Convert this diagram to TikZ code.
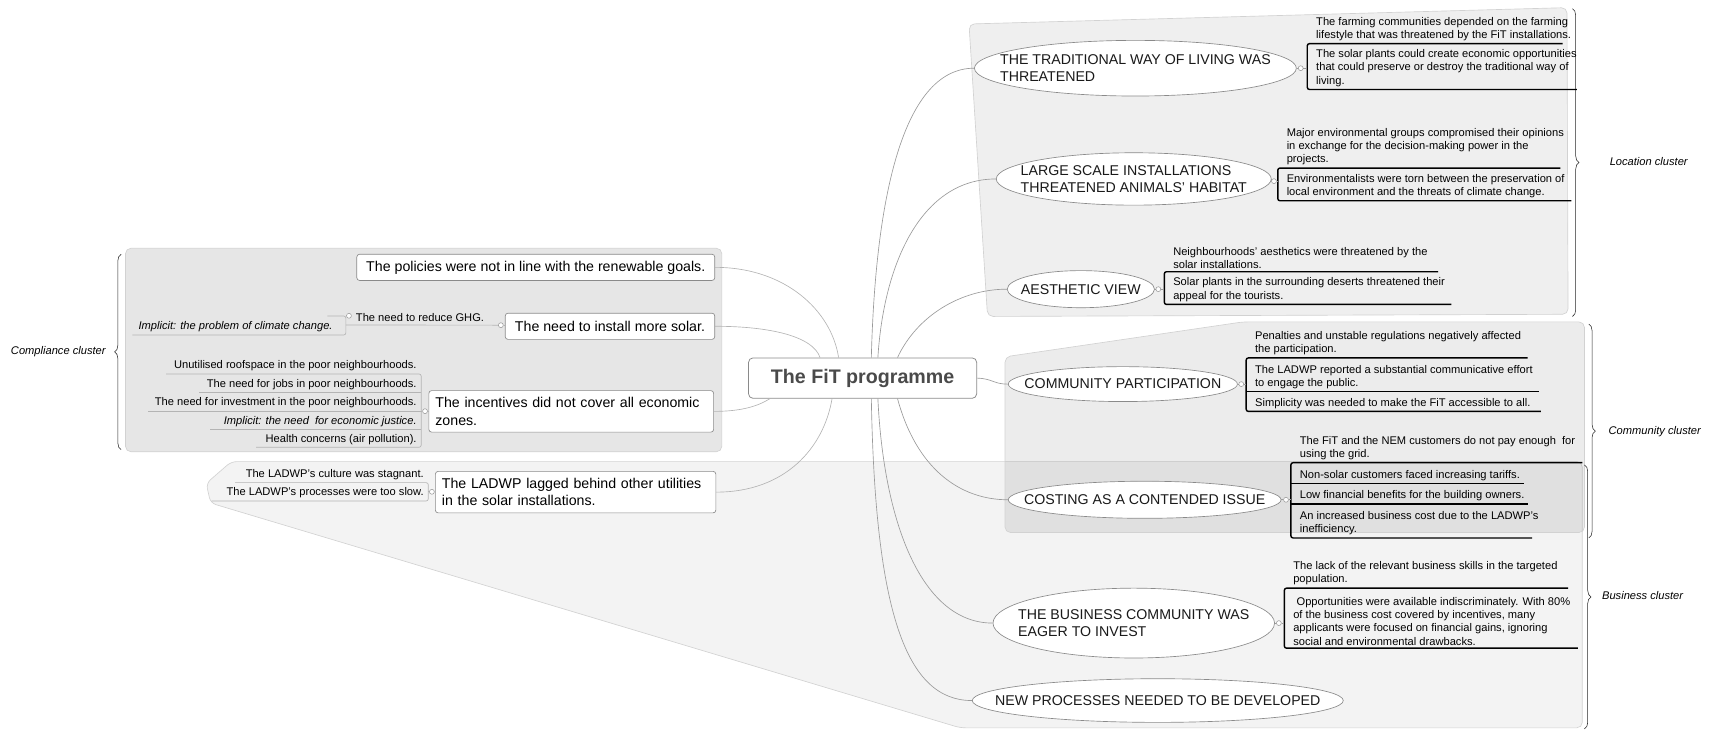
\documentclass[tikz,border=0pt]{standalone}
\usepackage{fontspec}
\setmainfont{Liberation Sans}
\usetikzlibrary{shapes.geometric,decorations.pathreplacing,calc}
\definecolor{connc}{HTML}{9A9A9A}
\definecolor{lconnc}{HTML}{B4B4B4}
\definecolor{boxc}{HTML}{8A8A8A}
\definecolor{clc}{HTML}{D2D2D2}
\definecolor{titc}{HTML}{4A4A4A}
\definecolor{locfill}{HTML}{EFEFEF}
\definecolor{cmpfill}{HTML}{E6E6E6}
\definecolor{bizfill}{HTML}{F3F3F3}
\newcommand\fsmall{\fontsize{10.2}{12.2}\selectfont}
\newcommand\fmed{\fontsize{13}{16}\selectfont}
\tikzset{
 conn/.style={draw=connc, line width=0.6pt},
 lconn/.style={draw=lconnc, line width=0.6pt},
 box/.style={draw=boxc, fill=white, rounded corners=2.5pt, line width=0.6pt, inner xsep=6pt, inner ysep=2pt, font=\fmed, minimum height=24pt},
 ellnode/.style={ellipse, draw=boxc, fill=white, line width=0.6pt, inner sep=0pt},
 elltext/.style={align=left, font=\fmed, text=black!90, inner sep=0pt},
 rchild/.style={anchor=south west, align=left, inner xsep=8pt, inner ysep=2.5pt, font=\fsmall},
 lchild/.style={anchor=south east, align=right, inner xsep=4pt, inner ysep=2.5pt, font=\fsmall},
 rline/.style={draw=black, line width=1.3pt, rounded corners=2pt},
 lline/.style={draw=lconnc, line width=0.6pt, rounded corners=2pt},
 knob/.style={circle, draw=connc, fill=white, inner sep=0pt, minimum size=4.5pt, line width=0.5pt},
 clbrace/.style={decorate, decoration={brace, amplitude=6pt}, draw=black!85, line width=0.5pt},
 cllabel/.style={font=\fontsize{10.2}{12}\selectfont\itshape, inner sep=0pt},
 cluster/.style={draw=clc, line width=0.6pt, rounded corners=5pt},
 hub/.style={draw=boxc, fill=white, rounded corners=4pt, line width=0.7pt, minimum width=209pt, minimum height=37pt, font=\fontsize{18}{22}\selectfont\bfseries, text=titc},
}
\begin{document}
\begin{tikzpicture}[x=1pt,y=1pt]
\useasboundingbox (0,0) rectangle (1568,-669);
% ---------- clusters ----------
\path[cluster, fill=bizfill] (212,-423) -- (1450,-423) -- (1450,-667) -- (880,-667) -- (193,-461) -- (189,-443) -- cycle;
\path[cluster, fill=locfill] (888,-22) -- (1436,-7) -- (1437,-288) -- (905,-290) -- cycle;
\path[cluster, fill=black, fill opacity=0.075] (921,-327) -- (1139,-295) -- (1452,-295) -- (1452,-488) -- (921,-488) -- cycle;
\path[cluster, fill=cmpfill] (115,-227.5) rectangle (661.5,-414);
% braces
\draw[clbrace] (111,-412) -- (111,-233);
\node[cllabel, anchor=east] (lcmp) at (97,-322) {Compliance cluster};
\draw[clbrace] (1441,-8) -- (1441,-290);
\node[cllabel, anchor=west] (lloc) at (1475,-148) {Location cluster};
\draw[clbrace] (1456,-297) -- (1456,-493);
\node[cllabel, anchor=west] (lcom) at (1474,-396) {Community cluster};
\draw[clbrace] (1452,-426) -- (1452,-668);
\node[cllabel, anchor=west] (lbiz) at (1468,-546) {Business cluster};
% ---------- hub ----------
\node[hub] (c) at (790.5,-346.5) {The FiT programme};
% ---------- right main topics ----------
\node[ellnode, minimum width=295pt, minimum height=51pt] (e1) at (1040.5,-62.5) {};
\node[elltext] (e1t) at (e1.center) {THE TRADITIONAL WAY OF LIVING WAS\\THREATENED};
\node[ellnode, minimum width=252pt, minimum height=48pt] (e2) at (1039,-164) {};
\node[elltext] (e2t) at (e2.center) {LARGE SCALE INSTALLATIONS\\THREATENED ANIMALS' HABITAT};
\node[ellnode, minimum width=135pt, minimum height=34pt] (e3) at (990.5,-265) {};
\node[elltext] (e3t) at (e3.center) {AESTHETIC VIEW};
\node[ellnode, minimum width=210pt, minimum height=32pt] (e4) at (1029,-352) {};
\node[elltext] (e4t) at (e4.center) {COMMUNITY PARTICIPATION};
\node[ellnode, minimum width=250pt, minimum height=34pt] (e5) at (1049,-458) {};
\node[elltext] (e5t) at (e5.center) {COSTING AS A CONTENDED ISSUE};
\node[ellnode, minimum width=258pt, minimum height=64pt] (e6) at (1039,-571) {};
\node[elltext] (e6t) at (e6.center) {THE BUSINESS COMMUNITY WAS\\EAGER TO INVEST};
\node[ellnode, minimum width=340pt, minimum height=40pt] (e7) at (1061,-642) {};
\node[elltext] (e7t) at (e7.center) {NEW PROCESSES NEEDED TO BE DEVELOPED};
% ---------- left main topics ----------
\node[box, minimum width=328pt] (pol) at (491,-245) {The policies were not in line with the renewable goals.};
\node[box, minimum width=192pt] (sol) at (559,-299) {The need to install more solar.};
\node[box, text width=249pt, align=left, minimum height=38pt] (inc) at (523.5,-377) {The incentives did not cover all economic\\zones.};
\node[box, text width=245pt, align=left, minimum height=38pt] (lad) at (527.5,-451) {The LADWP lagged behind other utilities\\in the solar installations.};
% ---------- hub connectors ----------
\draw[conn] ([xshift=8pt]c.north) .. controls (802,-190) and (825,-62.5) .. (e1.west);
\draw[conn] ([xshift=14pt]c.north) .. controls (810,-240) and (845,-164) .. (e2.west);
\draw[conn] ([xshift=32pt]c.north) .. controls (840,-290) and (880,-265) .. (e3.west);
\draw[conn] (c.east) .. controls (910,-347) and (910,-352) .. (e4.west);
\draw[conn] ([xshift=32pt]c.south) .. controls (840,-430) and (880,-458) .. (e5.west);
\draw[conn] ([xshift=14pt]c.south) .. controls (810,-480) and (845,-571) .. (e6.west);
\draw[conn] ([xshift=8pt]c.south) .. controls (802,-560) and (830,-642) .. (e7.west);
\draw[lconn] (pol.east) .. controls (720,-245) and (762,-285) .. ([xshift=-22pt]c.north);
\draw[lconn] (sol.east) .. controls (705,-299) and (745,-308) .. ([xshift=-39pt]c.north);
\draw[lconn] (inc.east) .. controls (680,-377) and (695,-372) .. ([xshift=-85pt]c.south);
\draw[lconn] (lad.east) .. controls (720,-451) and (755,-410) .. ([xshift=-28pt]c.south);
% ---------- G1 ----------
\node[rchild] (a1) at (1198,-40) {The farming communities depended on the farming\\lifestyle that was threatened by the FiT installations.};
\node[rchild] (a2) at (1198,-82) {The solar plants could create economic opportunities\\that could preserve or destroy the traditional way of\\living.};
\draw[rline] ($(a1.south west)+(234,0)$) -- (a1.south west) -- (a2.south west) -- ++(247,0);
\node[knob] (k1) at (1192,-62.5) {};
\draw[conn] (e1.east) -- (k1.west);
\draw[conn] (k1.east) -- (k1.east -| a1.south west);
% ---------- G2 ----------
\node[rchild] (b1) at (1171,-154) {Major environmental groups compromised their opinions\\in exchange for the decision-making power in the\\projects.};
\node[rchild] (b2) at (1171,-184) {Environmentalists were torn between the preservation of\\local environment and the threats of climate change.};
\draw[rline] ($(b1.south west)+(259,0)$) -- (b1.south west) -- (b2.south west) -- ++(269,0);
\node[knob] (k2) at (1167.5,-166) {};
\draw[conn] (e2.east) -- (k2.west);
\draw[conn] (k2.east) -- (k2.east -| b1.south west);
% ---------- G3 ----------
\node[rchild] (d1) at (1067,-249) {Neighbourhoods' aesthetics were threatened by the\\solar installations.};
\node[rchild] (d2) at (1067,-279) {Solar plants in the surrounding deserts threatened their\\appeal for the tourists.};
\draw[rline] ($(d1.south west)+(251,0)$) -- (d1.south west) -- (d2.south west) -- ++(263,0);
\node[knob] (k3) at (1061.5,-265) {};
\draw[conn] (e3.east) -- (k3.west);
\draw[conn] (k3.east) -- (k3.east -| d1.south west);
% ---------- G4 ----------
\node[rchild] (f1) at (1142,-328) {Penalties and unstable regulations negatively affected\\the participation.};
\node[rchild] (f2) at (1142,-359) {The LADWP reported a substantial communicative effort\\to engage the public.};
\node[rchild] (f3) at (1142,-377) {Simplicity was needed to make the FiT accessible to all.};
\draw[rline] ($(f1.south west)+(258,0)$) -- (f1.south west) -- (f3.south west) -- ++(270,0);
\draw[rline] (f2.south west) -- ++(268,0);
\node[knob] (k4) at (1137.5,-352) {};
\draw[conn] (e4.east) -- (k4.west);
\draw[conn] (k4.east) -- (k4.east -| f1.south west);
% ---------- G5 ----------
\node[rchild] (h1) at (1183,-424) {The FiT and the NEM customers do not pay enough\ \ for\\using the grid.};
\node[rchild] (h2) at (1183,-443) {Non-solar customers faced increasing tariffs.};
\node[rchild] (h3) at (1183,-462) {Low financial benefits for the building owners.};
\node[rchild] (h4) at (1183,-493) {An increased business cost due to the LADWP's\\inefficiency.};
\draw[rline] ($(h1.south west)+(267,0)$) -- (h1.south west) -- (h4.south west) -- ++(221,0);
\draw[rline] (h2.south west) -- ++(214,0);
\draw[rline] (h3.south west) -- ++(217,0);
\node[knob] (k5) at (1178.5,-458) {};
\draw[conn] (e5.east) -- (k5.west);
\draw[conn] (k5.east) -- (k5.east -| h1.south west);
% ---------- G6 ----------
\node[rchild] (m1) at (1177,-539) {The lack of the relevant business skills in the targeted\\population.};
\node[rchild] (m2) at (1177,-594) {\hspace*{0.3em}Opportunities were available indiscriminately. With 80\%\\of the business cost covered by incentives, many\\applicants were focused on financial gains, ignoring\\social and environmental drawbacks.};
\draw[rline] ($(m1.south west)+(260,0)$) -- (m1.south west) -- (m2.south west) -- ++(269,0);
\node[knob] (k6) at (1172,-571) {};
\draw[conn] (e6.east) -- (k6.west);
\draw[conn] (k6.east) -- (k6.east -| m1.south west);
% ---------- incentives children ----------
\node[lchild] (i1) at (386,-342.7) {Unutilised roofspace in the poor neighbourhoods.};
\node[lchild] (i2) at (386,-359.8) {The need for jobs in poor neighbourhoods.};
\node[lchild] (i3) at (386,-376.6) {The need for investment in the poor neighbourhoods.};
\node[lchild] (i4) at (386,-393.4) {\itshape Implicit: the need\ \ for economic justice.};
\node[lchild] (i5) at (386,-409.9) {Health concerns (air pollution).};
\draw[lline] ($(i1.south east)+(-233.8,0)$) -- (i1.south east) -- (i5.south east) -- ++(-151.3,0);
\draw[lline] (i2.south east) -- ++(-203.2,0);
\draw[lline] (i3.south east) -- ++(-250.8,0);
\draw[lline] (i4.south east) -- ++(-193.8,0);
\node[knob] (ki) at (389.5,-376.8) {};
\draw[lline] (ki.west) -- (ki.west -| i1.south east);
\draw[lline] (ki.east) -- (inc.west |- ki.east);
% ---------- LADWP children ----------
\node[lchild] (j1) at (392.5,-442.3) {The LADWP's culture was stagnant.};
\node[lchild] (j2) at (392.5,-459.1) {The LADWP's processes were too slow.};
\draw[lline] ($(j1.south east)+(-177,0)$) -- (j1.south east) -- (j2.south east) -- ++(-198.5,0);
\node[knob] (kj) at (395.8,-450.7) {};
\draw[lline] (kj.west) -- (kj.west -| j1.south east);
\draw[lline] (kj.east) -- (lad.west |- kj.east);
% ---------- GHG chain ----------
\node[rchild, inner xsep=9pt] (g1) at (317,-297.8) {The need to reduce GHG.};
\node[lchild, font=\fsmall\itshape] (g2) at (309,-307) {Implicit: the problem of climate change.};
\node[knob] (kg) at (459,-298) {};
\draw[lline] (g1.south west) -- (kg.west);
\draw[lline] (kg.east) -- (sol.west |- kg.east);
\coordinate (gtop) at (317,-289.6);
\draw[lline] ($(gtop)+(-17,0)$) -- (gtop) -- (gtop |- g2.south) -- ++(-195.6,0);
\node[knob] (kt) at (319.8,-289.4) {};
\end{tikzpicture}
\end{document}
